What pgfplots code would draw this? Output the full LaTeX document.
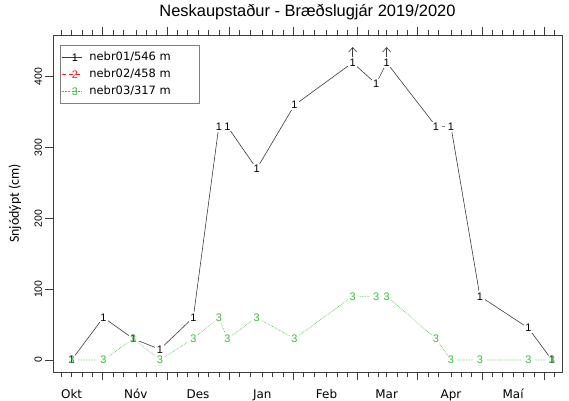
\documentclass[border=0pt]{standalone}
\usepackage{pgfplots}
\pgfplotsset{compat=1.18}
\usepackage{pgfplotstable}
\usepackage{fontspec}
\setmainfont{Liberation Sans}
\newfontfamily\dejavu{DejaVu Sans}
\newfontfamily\carlito{Carlito}
\usetikzlibrary{arrows.meta}
\definecolor{mygreen}{RGB}{55,190,55}
\definecolor{myred}{RGB}{245,30,30}
\definecolor{mygray}{RGB}{60,60,60}

\pgfplotstableread{
x y
0 0
15.3 60
29.7 30
42.6 15
58.7 60
71 330
75.1 330
89.3 270
107.5 360
135.6 420
146.9 390
152 420
175.8 330
183 330
197 90
220.4 45
231.7 0
}\nebrA

\pgfplotstableread{
x y
0 0
15.3 0
29.7 30
42.6 0
58.7 30
71 60
75.1 30
89.3 60
107.5 30
135.6 90
146.9 90
152 90
175.8 30
183 0
197 0
220.4 0
231.7 0
}\nebrC

\pgfplotstableread{
x y v
135.6 425 17
152 425 17
}\arrows

\begin{document}
\begin{tikzpicture}
\useasboundingbox (0,0) rectangle (569bp,401bp);
\begin{axis}[
  at={(53bp,29bp)}, anchor=south west,
  scale only axis, width=509bp, height=337bp,
  xmin=-9, xmax=236.6, ymin=-17, ymax=459,
  axis line style={mygray, line width=0.6bp},
  tick align=outside,
  xtick pos=both, ytick pos=left,
  xticklabel pos=lower,
  xtick={15,46,76,107,138,167,198,228},
  xticklabels={},
  minor xtick={-5,0,5,10,20,25,31,36,41,51,56,61,66,71,81,86,92,97,102,112,117,123,128,133,143,148,152,157,162,172,177,183,188,193,203,208,213,218,223,233},
  major tick length=7.5bp, minor tick length=4.5bp,
  every tick/.style={mygray, line width=0.6bp},
  extra x ticks={0,31,61,92,123,152,183,213},
  extra x tick labels={Okt,Nóv,Des,Jan,Feb,Mar,Apr,Maí},
  extra x tick style={major tick length=0pt, xtick pos=lower, tick label style={font=\dejavu\fontsize{12}{12}\selectfont, anchor=base, yshift=-26bp}},
  ytick={0,100,200,300,400},
  yticklabel style={rotate=90, anchor=south, font=\fontsize{10.5}{10.5}\selectfont},
  /pgf/number format/assume math mode=true,
  ylabel={Snjódýpt (cm)},
  ylabel style={at={(axis description cs:-0.0747,0.5)}, anchor=center, font=\carlito\fontsize{14}{14}\selectfont},
  title={Neskaupstaður - Bræðslugjár 2019/2020},
  title style={at={(axis description cs:0.5,1)}, anchor=base, yshift=12.3bp, font=\fontsize{16.5}{16.5}\selectfont},
  legend style={at={(axis description cs:0.0138,0.970)}, anchor=north west, draw=black!50, line width=0.6bp, fill=white,
    font=\dejavu\fontsize{11.5}{11.5}\selectfont, inner xsep=1bp, inner ysep=4.5bp, row sep=2bp, column sep=5.5bp,
    nodes={inner xsep=2bp, inner ysep=2bp, text height=8.5bp, text depth=2.5bp}},
  legend cell align=left,
]
\addlegendimage{legend image code/.code={\draw[mygray, line width=0.6bp] (0bp,0bp) -- (20bp,0bp); \node[black, font=\fontsize{11}{11}\selectfont, inner sep=0pt, text height=, text depth=] at (10bp,0bp) {1};}}
\addlegendentry{\makebox[107bp][l]{nebr01/546 m}}
\addlegendimage{legend image code/.code={\draw[myred, line width=0.6bp, dash pattern=on 4bp off 3bp] (0bp,0bp) -- (20bp,0bp); \node[myred, font=\fontsize{11}{11}\selectfont, inner sep=0pt, text height=, text depth=] at (10bp,0bp) {2};}}
\addlegendentry{nebr02/458 m}
\addlegendimage{legend image code/.code={\draw[mygreen, line width=0.6bp, dash pattern=on 2bp off 1.3bp] (0bp,0bp) -- (20bp,0bp); \node[mygreen, font=\fontsize{11}{11}\selectfont, inner sep=0pt, text height=, text depth=] at (10bp,0bp) {3};}}
\addlegendentry{nebr03/317 m}

% lines
\addplot[mygreen, line width=0.6bp, densely dotted, forget plot] table {\nebrC};
\addplot[mygray, line width=0.6bp, forget plot] table {\nebrA};
% gaps round the points (type b)
\addplot[white, only marks, mark=*, mark size=5.5bp, mark options={draw=white, fill=white, line width=0pt}, forget plot] table {\nebrA};
\addplot[white, only marks, mark=*, mark size=5.5bp, mark options={draw=white, fill=white, line width=0pt}, forget plot] table {\nebrC};
% point characters
\addplot[only marks, mark=text, text mark={1}, text mark as node=true, mark options={draw=none}, text mark style={black, font=\fontsize{11}{11}\selectfont, inner sep=0pt, anchor=center, draw=none}, forget plot] table {\nebrA};
\addplot[only marks, mark=text, text mark={3}, text mark as node=true, mark options={draw=none}, text mark style={mygreen, font=\fontsize{11}{11}\selectfont, inner sep=0pt, anchor=center, draw=none}, forget plot] table {\nebrC};
% off-scale arrows
\addplot[mygray, line width=0.6bp, -{Straight Barb[length=4.5bp,width=8bp]}, quiver={u=0, v=\thisrow{v}}, forget plot] table {\arrows};
\end{axis}
\end{tikzpicture}
\end{document}
